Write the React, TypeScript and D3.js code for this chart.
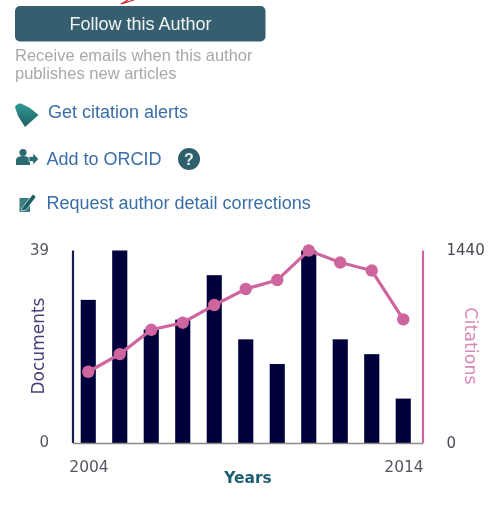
import React from "react";
import * as d3 from "d3";

const years = ["2004","2005","2006","2007","2008","2009","2010","2011","2012","2013","2014"];
const documents = [29,39,23,25,34,21,16,39,21,18,9];
const citations = [533,665,847,900,1032,1152,1219,1440,1350,1290,925];
const docTicks = [0,39];
const citeTicks = [0,1440];
const xLabels = ["2004","2014"];

const W = 500, H = 513;
const top = 250.5, bottom = 443, left = 73, right = 423;

export default function App() {
  const x = d3.scaleBand<string>().domain(years).range([72.5, 419]).paddingInner(0.52).paddingOuter(0.26);
  const yD = d3.scaleLinear().domain([0,39]).range([bottom, top]);
  const yC = d3.scaleLinear().domain([0,1440]).range([bottom, top]);
  const cx = (d: string) => (x(d) as number) + x.bandwidth()/2;
  const line = d3.line<number>().x((_, i) => cx(years[i])).y(v => yC(v));
  const linkFont = "'Liberation Sans', Arial, sans-serif";
  const chartFont = "'DejaVu Sans', Verdana, sans-serif";
  return (
    <svg width={W} height={H} viewBox={`0 0 ${W} ${H}`} style={{position:"absolute",left:0,top:0,background:"#fff"}}>
      <defs>
        <filter id="soft" x="-5%" y="-5%" width="110%" height="110%"><feGaussianBlur stdDeviation="0.6"/></filter>
        <linearGradient id="tag" x1="0" y1="0" x2="0" y2="1"><stop offset="0" stopColor="#2f9a92"/><stop offset="1" stopColor="#1f5f66"/></linearGradient>
      </defs>
      <g filter="url(#soft)">
        <path d="M121 4 L134 0 M121 4 L128 0" stroke="#c8202c" strokeWidth={1.3} fill="none"/>
        <rect x={15} y={6} width={250.5} height={35.5} rx={5} fill="#355f6e"/>
        <text x={140.5} y={30} textAnchor="middle" fontFamily={linkFont} fontSize={18} fill="#f2f4f5">Follow this Author</text>
        <text x={15} y={61} fontFamily={linkFont} fontSize={16.5} fill="#a9a9a9">Receive emails when this author</text>
        <text x={15} y={79} fontFamily={linkFont} fontSize={16.5} fill="#a9a9a9">publishes new articles</text>

        <path d="M15 107 Q17 103 21 103.5 L30 108 L38.5 115 L25 127 L18 116 Z" fill="url(#tag)"/>
        <text x={48} y={118} fontFamily={linkFont} fontSize={18} fill="#3a6ea8">Get citation alerts</text>

        <circle cx={23} cy={152.5} r={3.6} fill="#2b6a70"/>
        <path d="M16 165 V159.5 Q17 156 23 156 Q29 156 30 159.5 V165 Z" fill="#2b6a70"/>
        <path d="M29 156.5 H33 V153 L38.5 159 L33 165 V161.5 H29 Z" fill="#2b6a70" stroke="#fff" strokeWidth={0.6}/>
        <text x={46.5} y={164.5} fontFamily={linkFont} fontSize={18} fill="#3a6ea8">Add to ORCID</text>
        <circle cx={189} cy={159} r={11} fill="#2f5f6d"/>
        <text x={189} y={165} textAnchor="middle" fontFamily={linkFont} fontWeight="bold" fontSize={16} fill="#e8eef0">?</text>

        <path d="M19.5 198 H30 V212 H19.5 Z" fill="#3b7f80"/>
        <path d="M22 208 L33 194 L36 197 L26 210 L21.5 211 Z" fill="#1f5f66" stroke="#fff" strokeWidth={0.6}/>
        <text x={46.5} y={209} fontFamily={linkFont} fontSize={18} fill="#3a6ea8">Request author detail corrections</text>

        {years.map((yr, i) => (
          <rect key={yr} x={x(yr)} y={yD(documents[i])} width={x.bandwidth()} height={bottom - yD(documents[i])} fill="#02023a"/>
        ))}
        <line x1={73} x2={73} y1={top} y2={bottom} stroke="#1b1b4f" strokeWidth={2.2}/>
        <line x1={73} x2={right} y1={bottom+0.5} y2={bottom+0.5} stroke="#8a8a8a" strokeWidth={1.6}/>
        <line x1={right} x2={right} y1={top} y2={bottom} stroke="#cf659f" strokeWidth={2.2}/>
        <path d={line(citations) ?? ""} fill="none" stroke="#cf659f" strokeWidth={3.2}/>
        {citations.map((v, i) => <circle key={years[i]} cx={cx(years[i])} cy={yC(v)} r={6.2} fill="#cf659f"/>)}

        {docTicks.map(t => <text key={t} x={49} y={yD(t)+4} textAnchor="end" fontFamily={chartFont} fontSize={15} fill="#55555f">{t}</text>)}
        {citeTicks.map(t => <text key={t} x={446.5} y={yC(t)+4.5} fontFamily={chartFont} fontSize={15} fill="#4a4a55">{t}</text>)}
        <text x={89} y={472} textAnchor="middle" fontFamily={chartFont} fontSize={15.5} fill="#55555f">{xLabels[0]}</text>
        <text x={404} y={472} textAnchor="middle" fontFamily={chartFont} fontSize={15.5} fill="#55555f">{xLabels[1]}</text>
        <text x={248} y={483} textAnchor="middle" fontFamily={chartFont} fontWeight="bold" fontSize={15.5} fill="#1f5f73">Years</text>
        <text transform="translate(44,346) rotate(-90)" textAnchor="middle" fontFamily={chartFont} fontSize={17} fill="#4a3f7a">Documents</text>
        <text transform="translate(465,346) rotate(90)" textAnchor="middle" fontFamily={chartFont} fontSize={17.5} fill="#d98ab8">Citations</text>
      </g>
    </svg>
  );
}
